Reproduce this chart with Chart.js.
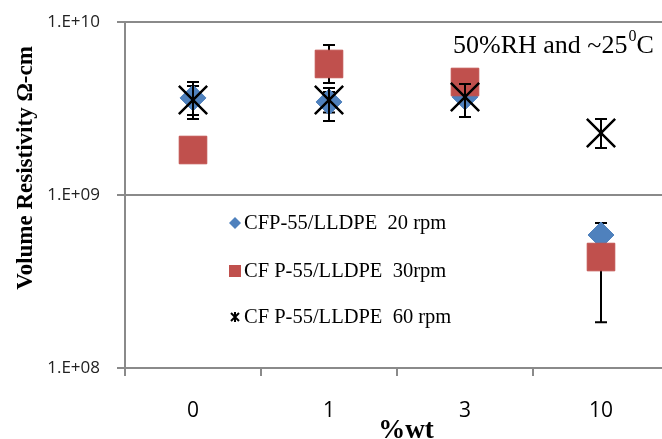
<!DOCTYPE html>
<html>
<head>
<meta charset="utf-8">
<script src="https://cdn.jsdelivr.net/npm/chart.js@4.4.1/dist/chart.umd.min.js"></script>
<style>
  html, body { margin: 0; padding: 0; background: #fff; overflow: hidden; }
  #wrap { width: 662px; height: 439px; overflow: hidden; }
</style>
</head>
<body>
<div id="wrap"><canvas id="chart" width="680" height="439"></canvas></div>
<script>
// Datos
const categories = ['0', '1', '3', '10'];
const rpm20 = [3.64e9, 3.45e9, 3.69e9, 5.87e8];
const rpm30 = [1.82e9, 5.72e9, 4.50e9, 4.38e8];
const rpm60 = [3.54e9, 3.54e9, 3.69e9, 2.28e9];
// barras de error [bajo, alto], null = no visible
const rpm20Err = [[2.90e9, 4.27e9], [3.00e9, 3.94e9], null, [5.0e8, 6.89e8]];
const rpm30Err = [null, [4.44e9, 7.36e9], null, [1.84e8, null]];
const rpm60Err = [[2.75e9, 4.50e9], [2.68e9, 4.15e9], [2.82e9, 4.38e9], [1.87e9, 2.75e9]];
const yTicks = [1e8, 1e9, 1e10];
const yTickLabels = ['1.E+08', '1.E+09', '1.E+10'];
const seriesLabels = ['CFP-55/LLDPE  20 rpm', 'CF P-55/LLDPE  30rpm', 'CF P-55/LLDPE  60 rpm'];

const BLUE = '#4F81BD';
const RED = '#C0504D';
const AXIS = '#8a8a8a';

// Barras de error, dibujadas antes de los marcadores de cada serie
const errorBars = {
    id: 'errorBars',
    beforeDatasetDraw(chart, args) {
        const ds = chart.data.datasets[args.index];
        if (!ds.errors) return;
        const ctx = chart.ctx;
        const y = chart.scales.y;
        ctx.save();
        ctx.strokeStyle = '#000';
        ctx.lineWidth = 2;
        args.meta.data.forEach((pt, i) => {
            const e = ds.errors[i];
            if (!e) return;
            const v = ds.data[i];
            const yLow = y.getPixelForValue(e[0] != null ? e[0] : v);
            const yHigh = y.getPixelForValue(e[1] != null ? e[1] : v);
            ctx.beginPath();
            ctx.moveTo(pt.x, yLow);
            ctx.lineTo(pt.x, yHigh);
            if (e[0] != null) { ctx.moveTo(pt.x - 6, yLow); ctx.lineTo(pt.x + 6, yLow); }
            if (e[1] != null) { ctx.moveTo(pt.x - 6, yHigh); ctx.lineTo(pt.x + 6, yHigh); }
            ctx.stroke();
        });
        ctx.restore();
    }
};

// Textos: titulos de ejes, anotacion y leyenda
const texts = {
    id: 'texts',
    afterDraw(chart) {
        const ctx = chart.ctx;
        ctx.save();
        ctx.fillStyle = '#000';

        // titulo eje Y
        ctx.save();
        ctx.translate(32, 168);
        ctx.rotate(-Math.PI / 2);
        ctx.font = 'bold 23px "Liberation Serif"';
        ctx.textAlign = 'center';
        ctx.textBaseline = 'alphabetic';
        ctx.fillText('Volume Resistivity \u03A9-cm', 0, 0);
        ctx.restore();

        // titulo eje X
        ctx.font = 'bold 27px "Liberation Serif"';
        ctx.textAlign = 'center';
        ctx.textBaseline = 'alphabetic';
        ctx.fillText('%wt', 406, 438);

        // anotacion
        ctx.textAlign = 'left';
        ctx.font = '26px "Liberation Serif"';
        let x = 453;
        const main = '50%RH and ~25';
        ctx.fillText(main, x, 53);
        x += ctx.measureText(main).width + 1;
        ctx.font = '16px "Liberation Serif"';
        ctx.fillText('0', x, 41);
        x += ctx.measureText('0').width;
        ctx.font = '26px "Liberation Serif"';
        ctx.fillText('C', x, 53);

        // leyenda
        const rows = [223, 271, 317];
        ctx.font = '20.5px "Liberation Serif"';
        ctx.textBaseline = 'middle';
        seriesLabels.forEach((label, i) => {
            const cy = rows[i];
            const cx = 235;
            if (i === 0) {
                ctx.fillStyle = BLUE;
                ctx.beginPath();
                ctx.moveTo(cx - 6, cy); ctx.lineTo(cx, cy - 6);
                ctx.lineTo(cx + 6, cy); ctx.lineTo(cx, cy + 6);
                ctx.closePath();
                ctx.fill();
            } else if (i === 1) {
                ctx.fillStyle = RED;
                ctx.fillRect(cx - 6, cy - 6, 12, 12);
            } else {
                ctx.strokeStyle = '#000';
                ctx.lineWidth = 2;
                ctx.beginPath();
                ctx.moveTo(cx - 4, cy - 4); ctx.lineTo(cx + 4, cy + 4);
                ctx.moveTo(cx + 4, cy - 4); ctx.lineTo(cx - 4, cy + 4);
                ctx.moveTo(cx, cy - 5); ctx.lineTo(cx, cy + 5);
                ctx.stroke();
            }
            ctx.fillStyle = '#000';
            ctx.fillText(label, 244, cy + 1);
        });
        ctx.restore();
    }
};

new Chart(document.getElementById('chart'), {
    type: 'line',
    data: {
        labels: categories,
        datasets: [
            {
                label: seriesLabels[0],
                data: rpm20,
                errors: rpm20Err,
                showLine: false,
                pointStyle: 'rectRot',
                pointRadius: 13,
                pointBackgroundColor: BLUE,
                pointBorderColor: BLUE,
                pointBorderWidth: 1,
                order: 3
            },
            {
                label: seriesLabels[1],
                data: rpm30,
                errors: rpm30Err,
                showLine: false,
                pointStyle: 'rect',
                pointRadius: 19.5,
                pointBackgroundColor: RED,
                pointBorderColor: RED,
                pointBorderWidth: 1,
                order: 2
            },
            {
                label: seriesLabels[2],
                data: rpm60,
                errors: rpm60Err,
                showLine: false,
                pointStyle: 'crossRot',
                pointRadius: 20,
                pointBorderColor: '#000',
                pointBorderWidth: 2.5,
                order: 1
            }
        ]
    },
    options: {
        responsive: false,
        animation: false,
        layout: { autoPadding: false, padding: { top: 22, right: 11, left: 0, bottom: 0 } },
        plugins: {
            legend: { display: false },
            tooltip: { enabled: false }
        },
        scales: {
            x: {
                type: 'category',
                offset: true,
                grid: {
                    offset: true,
                    drawOnChartArea: false,
                    drawTicks: true,
                    tickLength: 8,
                    color: AXIS,
                    lineWidth: 2
                },
                border: { color: AXIS, width: 2 },
                ticks: {
                    color: '#000',
                    font: { family: '"Open Sans"', size: 21 },
                    padding: 22
                },
                afterFit(scale) {
                    scale.height = 71;
                    scale.paddingLeft = 0;
                    scale.paddingRight = 0;
                }
            },
            y: {
                type: 'logarithmic',
                min: 1e8,
                max: 1e10,
                afterBuildTicks(axis) {
                    axis.ticks = yTicks.map(v => ({ value: v }));
                },
                grid: {
                    color: AXIS,
                    lineWidth: 2,
                    tickLength: 8
                },
                border: { color: AXIS, width: 2 },
                ticks: {
                    color: '#222',
                    font: { family: '"Open Sans"', size: 17 },
                    padding: 17,
                    callback: (value, index) => yTickLabels[index]
                },
                afterFit(scale) {
                    scale.width = 125;
                    scale.paddingTop = 0;
                    scale.paddingBottom = 0;
                }
            }
        }
    },
    plugins: [errorBars, texts]
});
</script>
</body>
</html>
